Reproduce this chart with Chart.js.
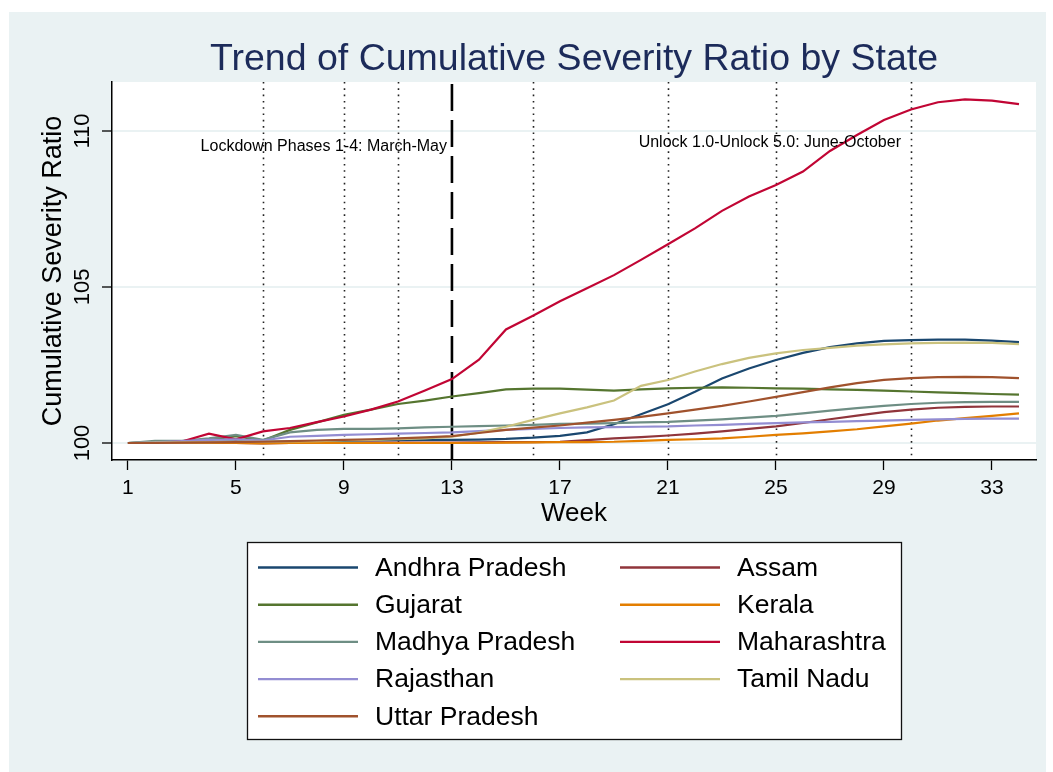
<!DOCTYPE html>
<html>
<head>
<meta charset="utf-8">
<script src="https://cdn.jsdelivr.net/npm/chart.js@4.4.0/dist/chart.umd.min.js"></script>
<style>
  html, body { margin: 0; padding: 0; background: #fff; }
  #wrap { position: relative; width: 1053px; height: 772px; }
</style>
</head>
<body>
<div id="wrap"><canvas id="chart" width="1053" height="772"></canvas></div>
<script>
// weeks on the x axis
const weeks = [1, 2, 3, 4, 5, 6, 7, 8, 9, 10, 11, 12, 13, 14, 15, 16, 17,
    18, 19, 20, 21, 22, 23, 24, 25, 26, 27, 28, 29, 30, 31, 32, 33, 34];
const xTicks = [1, 5, 9, 13, 17, 21, 25, 29, 33];
const yTicks = [100, 105, 110];

// phase markers
const phaseWeeks = [6, 9, 11, 16, 21, 25, 30];
const lockdownEndWeek = 13;

// cumulative severity ratio by state
const andhraPradesh = [100, 100.02, 100.03, 100.04, 100.05, 100.04, 100.05, 100.06, 100.07, 100.08, 100.09, 100.1, 100.1,
    100.11, 100.13, 100.17, 100.23, 100.34, 100.6, 100.92, 101.24, 101.64, 102.07, 102.39, 102.66, 102.89,
    103.07, 103.19, 103.27, 103.3, 103.31, 103.31, 103.28, 103.23];
const assam = [100, 100, 100.01, 100.02, 100, 99.99, 100, 100, 100, 100.01, 100.01, 100.01, 100.01,
    100.02, 100.03, 100.03, 100.04, 100.09, 100.15, 100.19, 100.24, 100.3, 100.37, 100.45, 100.53, 100.64,
    100.76, 100.88, 100.99, 101.07, 101.13, 101.16, 101.17, 101.17];
const gujarat = [100, 100.03, 100.05, 100.1, 100.22, 100.08, 100.42, 100.66, 100.9, 101.07, 101.25, 101.36, 101.49,
    101.6, 101.72, 101.74, 101.74, 101.71, 101.68, 101.72, 101.75, 101.77, 101.78, 101.77, 101.75, 101.74,
    101.72, 101.7, 101.68, 101.65, 101.62, 101.6, 101.57, 101.55];
const kerala = [100, 100, 100, 100.01, 100, 99.99, 100, 100, 100, 100, 100, 100, 100,
    100, 100.01, 100.02, 100.03, 100.03, 100.04, 100.07, 100.1, 100.12, 100.15, 100.2, 100.26, 100.31,
    100.37, 100.44, 100.53, 100.62, 100.72, 100.8, 100.87, 100.95];
const madhyaPradesh = [100, 100.07, 100.07, 100.15, 100.26, 100.1, 100.34, 100.42, 100.45, 100.45, 100.47, 100.5, 100.52,
    100.54, 100.56, 100.58, 100.61, 100.62, 100.64, 100.66, 100.68, 100.72, 100.76, 100.81, 100.87, 100.95,
    101.04, 101.12, 101.19, 101.25, 101.29, 101.31, 101.32, 101.32];
const maharashtra = [100, 100, 100.05, 100.3, 100.12, 100.37, 100.48, 100.67, 100.85, 101.07, 101.33, 101.68, 102.05,
    102.67, 103.64, 104.08, 104.54, 104.96, 105.38, 105.87, 106.37, 106.88, 107.44, 107.9, 108.27, 108.7,
    109.36, 109.87, 110.35, 110.69, 110.92, 111.01, 110.97, 110.86];
const rajasthan = [100, 100.02, 100.06, 100.1, 100.12, 100.08, 100.2, 100.23, 100.26, 100.28, 100.3, 100.32, 100.34,
    100.38, 100.42, 100.45, 100.48, 100.5, 100.51, 100.52, 100.53, 100.56, 100.58, 100.61, 100.64, 100.66,
    100.68, 100.7, 100.72, 100.74, 100.76, 100.77, 100.78, 100.78];
const tamilNadu = [100, 100.01, 100.02, 100.03, 100.04, 100.04, 100.05, 100.06, 100.08, 100.1, 100.12, 100.15, 100.2,
    100.33, 100.52, 100.74, 100.95, 101.14, 101.36, 101.83, 102.02, 102.29, 102.53, 102.73, 102.87, 102.98,
    103.05, 103.12, 103.16, 103.19, 103.21, 103.22, 103.21, 103.17];
const uttarPradesh = [100, 100, 100.01, 100.02, 100.03, 100.04, 100.06, 100.08, 100.1, 100.12, 100.15, 100.18, 100.22,
    100.32, 100.42, 100.49, 100.56, 100.65, 100.74, 100.84, 100.95, 101.07, 101.19, 101.33, 101.48, 101.63,
    101.78, 101.92, 102.02, 102.08, 102.11, 102.12, 102.11, 102.08];

const stateNames = ['Andhra Pradesh', 'Assam', 'Gujarat', 'Kerala', 'Madhya Pradesh',
    'Maharashtra', 'Rajasthan', 'Tamil Nadu', 'Uttar Pradesh'];
const stateValues = [andhraPradesh, assam, gujarat, kerala, madhyaPradesh,
    maharashtra, rajasthan, tamilNadu, uttarPradesh];
// stata s2color palette
const stateColors = ['#1A476F', '#90353B', '#55752F', '#E37E00', '#6E8E84',
    '#C10534', '#938DD2', '#CAC27E', '#A0522D'];

const chartTitle = 'Trend of Cumulative Severity Ratio by State';

const FONT = "'Liberation Sans', Arial, sans-serif";
const BG = '#EAF2F3';

const datasets = stateNames.map(function(name, i) {
    return {
        label: name,
        data: weeks.map(function(w, j) { return { x: w, y: stateValues[i][j] }; }),
        borderColor: stateColors[i],
        backgroundColor: stateColors[i],
        borderWidth: 2.2,
        pointRadius: 0,
        tension: 0,
        order: stateNames.length - i   // later states drawn on top, like stata
    };
});

const backgroundPlugin = {
    id: 'background',
    beforeDraw(chart) {
        const ctx = chart.ctx;
        ctx.save();
        ctx.fillStyle = '#fff';
        ctx.fillRect(0, 0, chart.width, chart.height);
        ctx.fillStyle = BG;
        ctx.fillRect(9, 12, 1037, 760);
        const a = chart.chartArea;
        ctx.fillStyle = '#fff';
        ctx.fillRect(a.left, a.top, a.right - a.left, a.bottom - a.top);
        // title centred over the plot region
        ctx.fillStyle = '#1C2B5A';
        ctx.font = '37.5px ' + FONT;
        ctx.textAlign = 'center';
        ctx.textBaseline = 'alphabetic';
        ctx.fillText(chartTitle, (a.left + a.right) / 2, 70);
        ctx.restore();
    }
};

const phaseLinesPlugin = {
    id: 'phaseLines',
    beforeDatasetsDraw(chart) {
        const ctx = chart.ctx;
        const a = chart.chartArea;
        const xs = chart.scales.x;
        ctx.save();
        ctx.strokeStyle = '#222';
        ctx.lineWidth = 1.6;
        ctx.setLineDash([1.6, 4.7]);
        phaseWeeks.forEach(function(w) {
            const px = Math.round(xs.getPixelForValue(w)) + 0.5;
            ctx.beginPath();
            ctx.moveTo(px, a.top);
            ctx.lineTo(px, a.bottom);
            ctx.stroke();
        });
        ctx.strokeStyle = '#000';
        ctx.lineWidth = 2.6;
        ctx.setLineDash([27, 9]);
        const dx = xs.getPixelForValue(lockdownEndWeek);
        ctx.beginPath();
        ctx.moveTo(dx, a.top + 2);
        ctx.lineTo(dx, a.bottom);
        ctx.stroke();
        ctx.restore();
    }
};

const phaseTextPlugin = {
    id: 'phaseText',
    afterDatasetsDraw(chart) {
        const ctx = chart.ctx;
        const xs = chart.scales.x, ys = chart.scales.y;
        ctx.save();
        ctx.fillStyle = '#000';
        ctx.font = '16px ' + FONT;
        ctx.textAlign = 'right';
        ctx.textBaseline = 'middle';
        ctx.fillText('Lockdown Phases 1-4: March-May', xs.getPixelForValue(lockdownEndWeek) - 5, ys.getPixelForValue(109.5));
        ctx.fillText('Unlock 1.0-Unlock 5.0: June-October', xs.getPixelForValue(30) - 10, ys.getPixelForValue(109.62));
        ctx.restore();
    }
};

const legendPlugin = {
    id: 'gridLegend',
    afterDraw(chart) {
        const ctx = chart.ctx;
        ctx.save();
        ctx.fillStyle = '#fff';
        ctx.fillRect(247, 542, 654, 197);
        ctx.strokeStyle = '#111';
        ctx.lineWidth = 1.3;
        ctx.strokeRect(247.5, 542.5, 654, 197);
        ctx.font = '26.5px ' + FONT;
        ctx.textAlign = 'left';
        ctx.textBaseline = 'middle';
        chart.data.datasets.forEach(function(ds, i) {
            const col = i % 2;
            const row = Math.floor(i / 2);
            const lx = col ? 620 : 258;
            const ly = 567.5 + row * 37.2;
            ctx.strokeStyle = ds.borderColor;
            ctx.lineWidth = 2.4;
            ctx.beginPath();
            ctx.moveTo(lx, ly);
            ctx.lineTo(lx + 100, ly);
            ctx.stroke();
            ctx.fillStyle = '#000';
            ctx.fillText(ds.label, lx + 117, ly + 1);
        });
        ctx.restore();
    }
};

new Chart(document.getElementById('chart'), {
    type: 'line',
    data: { datasets: datasets },
    plugins: [backgroundPlugin, phaseLinesPlugin, phaseTextPlugin, legendPlugin],
    options: {
        responsive: false,
        animation: false,
        devicePixelRatio: 1,
        layout: { padding: { left: 10, right: 17, top: 82, bottom: 242 } },
        plugins: {
            legend: { display: false },
            tooltip: { enabled: false },
            title: { display: false }
        },
        scales: {
            x: {
                type: 'linear',
                min: 0.41,
                max: 34.63,
                afterBuildTicks: function(s) { s.ticks = xTicks.map(function(v) { return { value: v }; }); },
                afterFit: function(s) { s.height = 70; },
                ticks: {
                    color: '#000',
                    padding: 6,
                    maxRotation: 0,
                    autoSkip: false,
                    font: { family: FONT, size: 21 }
                },
                grid: { drawOnChartArea: false, tickColor: '#000', tickLength: 10, tickWidth: 1.3 },
                border: { color: '#000', width: 1.5 },
                title: {
                    display: true,
                    text: 'Week',
                    color: '#000',
                    font: { family: FONT, size: 26 },
                    padding: { top: 0, bottom: 1 }
                }
            },
            y: {
                type: 'linear',
                min: 99.455,
                max: 111.57,
                afterBuildTicks: function(s) { s.ticks = yTicks.map(function(v) { return { value: v }; }); },
                afterFit: function(s) { s.width = 102; },
                ticks: {
                    color: '#000',
                    minRotation: 90,
                    maxRotation: 90,
                    crossAlign: 'center',
                    padding: 1,
                    font: { family: FONT, size: 22 }
                },
                grid: { color: BG, lineWidth: 2, tickColor: '#000', tickLength: 10, tickWidth: 1.3 },
                border: { color: '#000', width: 1.5 },
                title: {
                    display: true,
                    text: 'Cumulative Severity Ratio',
                    color: '#000',
                    font: { family: FONT, size: 27 },
                    padding: { top: 27, bottom: 0 }
                }
            }
        }
    }
});
</script>
</body>
</html>
